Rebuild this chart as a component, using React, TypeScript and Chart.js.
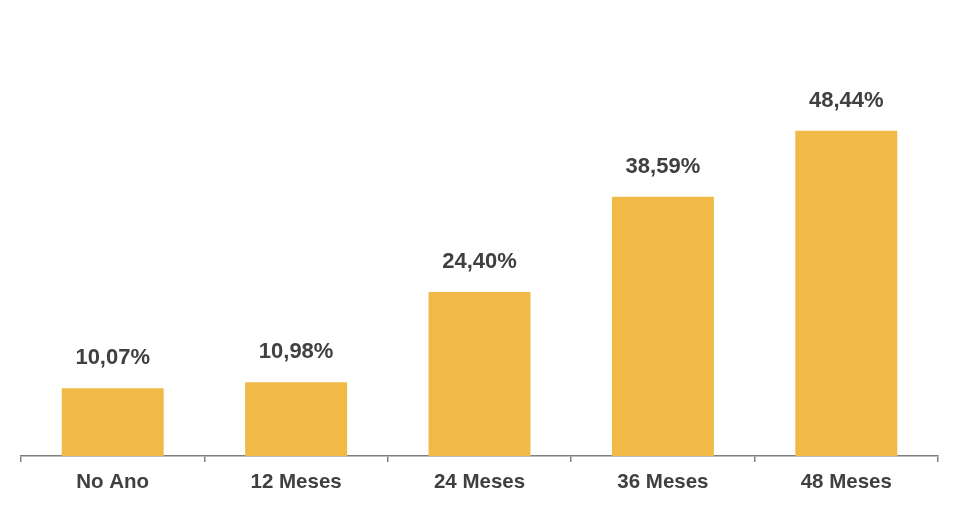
import React, { useEffect, useRef } from "react";
import { Chart, registerables } from "chart.js";

Chart.register(...registerables);

const categories = ["No Ano", "12 Meses", "24 Meses", "36 Meses", "48 Meses"];
const values = [10.07, 10.98, 24.4, 38.59, 48.44];
const valueLabels = ["10,07%", "10,98%", "24,40%", "38,59%", "48,44%"];

const FONT = "'Liberation Sans', Arial, sans-serif";
const TEXT = "#404040";

const labelPlugin = {
  id: "valueLabels",
  afterDatasetsDraw(chart: any) {
    const ctx = chart.ctx;
    const meta = chart.getDatasetMeta(0);
    ctx.save();
    ctx.font = `bold 22px ${FONT}`;
    ctx.fillStyle = TEXT;
    ctx.textAlign = "center";
    ctx.textBaseline = "middle";
    meta.data.forEach((bar: any, i: number) => {
      ctx.fillText(valueLabels[i], bar.x, bar.y - 30);
    });
    ctx.restore();
  },
};

export default function App() {
  const ref = useRef<HTMLCanvasElement>(null);
  useEffect(() => {
    document.body.style.margin = "0";
    const chart = new Chart(ref.current!, {
      type: "bar",
      data: {
        labels: categories,
        datasets: [
          {
            data: values,
            backgroundColor: "#F1BA46",
            categoryPercentage: 0.556,
            barPercentage: 1,
          },
        ],
      },
      options: {
        animation: false,
        responsive: true,
        maintainAspectRatio: false,
        layout: { padding: { top: 53, left: 21, right: 22, bottom: 0 } },
        plugins: { legend: { display: false }, tooltip: { enabled: false } },
        scales: {
          y: { display: false, min: 0, max: 60 },
          x: {
            afterFit: (scale: any) => {
              scale.height = 57;
            },
            border: { display: true, color: "#808080", width: 1.5 },
            grid: {
              display: true,
              offset: true,
              drawOnChartArea: false,
              drawTicks: true,
              tickLength: 6,
              color: "#808080",
              lineWidth: 1.5,
            },
            ticks: {
              color: TEXT,
              font: { family: FONT, size: 20.5, weight: "bold" },
              padding: 8,
            },
          },
        },
      },
      plugins: [labelPlugin],
    });
    return () => chart.destroy();
  }, []);
  return (
    <div style={{ position: "relative", width: 960, height: 513 }}>
      <canvas ref={ref} />
    </div>
  );
}
